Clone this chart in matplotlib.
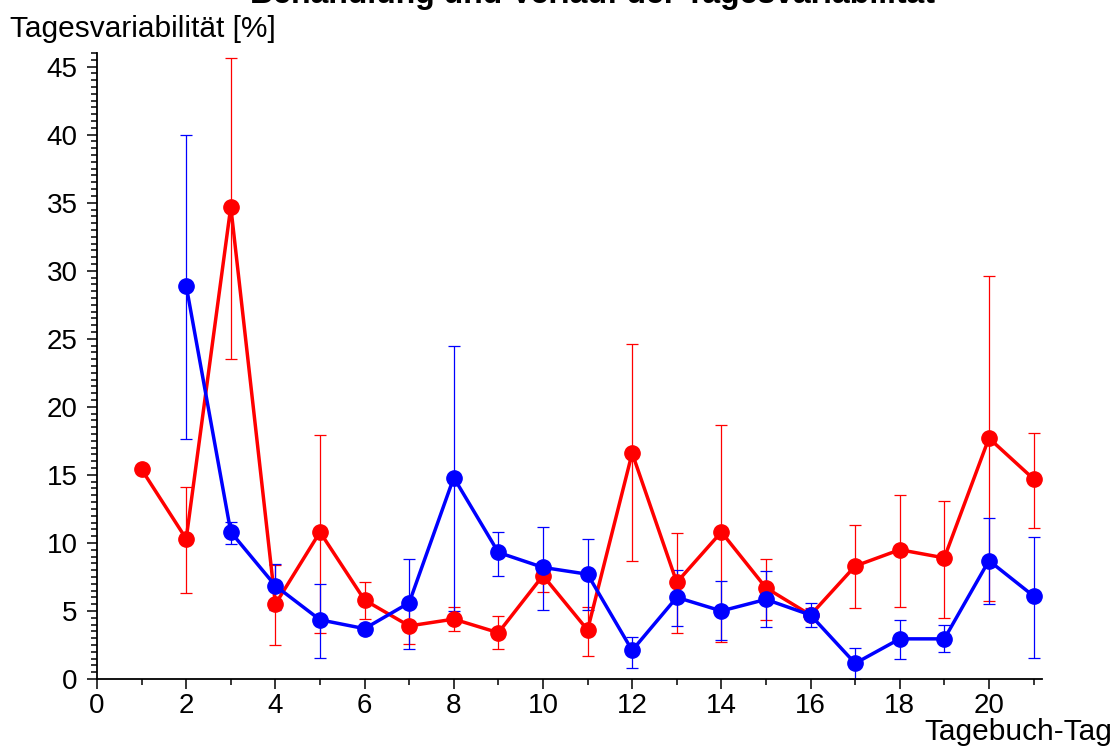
import numpy as np
import matplotlib
matplotlib.use("Agg")
import matplotlib.pyplot as plt
from matplotlib.ticker import MultipleLocator

plt.rcParams['font.family'] = ['Liberation Sans', 'DejaVu Sans']

# red series (days 1..21)
red_day = [1, 2, 3, 4, 5, 6, 7, 8, 9, 10, 11, 12, 13, 14, 15, 16, 17, 18, 19, 20, 21]
red_val = [15.4, 10.3, 34.7, 5.5, 10.8, 5.8, 3.9, 4.4, 3.4, 7.6, 3.6, 16.6, 7.1, 10.8,
           6.7, 4.7, 8.3, 9.5, 8.9, 17.7, 14.7]
red_lo = [15.4, 6.3, 23.5, 2.5, 3.4, 4.4, 2.6, 3.5, 2.2, 6.4, 1.7, 8.65, 3.4, 2.7,
          4.35, 4.5, 5.2, 5.3, 4.5, 5.7, 11.1]
red_hi = [15.4, 14.1, 45.6, 8.4, 17.9, 7.1, 5.3, 5.3, 4.6, 8.6, 5.3, 24.6, 10.7, 18.7,
          8.8, 5.2, 11.3, 13.5, 13.1, 29.6, 18.1]

# blue series (days 2..21)
blue_day = [2, 3, 4, 5, 6, 7, 8, 9, 10, 11, 12, 13, 14, 15, 16, 17, 18, 19, 20, 21]
blue_val = [28.9, 10.8, 6.85, 4.35, 3.7, 5.6, 14.8, 9.3, 8.2, 7.7, 2.1, 6.0, 5.0, 5.85,
            4.7, 1.15, 2.95, 2.95, 8.7, 6.1]
blue_lo = [17.65, 9.95, 5.1, 1.55, 3.3, 2.2, 5.0, 7.6, 5.1, 5.1, 0.8, 3.9, 2.9, 3.8,
           3.8, 0.0, 1.45, 1.95, 5.5, 1.55]
blue_hi = [40.0, 11.55, 8.45, 7.0, 3.95, 8.85, 24.5, 10.8, 11.2, 10.3, 3.1, 8.0, 7.2, 7.9,
           5.55, 2.3, 4.35, 4.0, 11.8, 10.45]

x_ticks = [0, 2, 4, 6, 8, 10, 12, 14, 16, 18, 20]
y_ticks = [0, 5, 10, 15, 20, 25, 30, 35, 40, 45]

fig = plt.figure(figsize=(11.2, 7.51), dpi=100)
ax = fig.add_axes([97 / 1120, 1 - 679 / 751, (1042 - 97) / 1120, (679 - 53) / 751])


def draw(day, val, lo, hi, color):
    val = np.array(val)
    yerr = np.vstack([val - np.array(lo), np.array(hi) - val])
    ax.errorbar(day, val, yerr=yerr, fmt='none', ecolor=color, elinewidth=0.9,
                capsize=4.5, capthick=0.9, zorder=2)
    ax.plot(day, val, color=color, lw=2.5, marker='o', ms=11, zorder=3)


draw(red_day, red_val, red_lo, red_hi, '#ff0000')
draw(blue_day, blue_val, blue_lo, blue_hi, '#0000ff')

ax.set_xlim(0, 21.19)
ax.set_ylim(0, 46)
ax.set_xticks(x_ticks)
ax.set_yticks(y_ticks)
ax.xaxis.set_minor_locator(MultipleLocator(1))
ax.yaxis.set_minor_locator(MultipleLocator(0.5))

for s in ['top', 'right']:
    ax.spines[s].set_visible(False)
for s in ['left', 'bottom']:
    ax.spines[s].set_linewidth(1.3)

ax.tick_params(axis='both', which='major', direction='out', length=7, width=1.1,
               labelsize=20)
ax.tick_params(axis='y', which='major', pad=7)
ax.tick_params(axis='x', which='major', pad=3)
ax.tick_params(axis='x', which='minor', direction='out', length=4.5, width=1.1)
ax.tick_params(axis='y', which='minor', direction='out', length=4, width=1.1)

fig.text(10 / 1120, 1 - 37 / 751, 'Tagesvariabilität [%]', fontsize=21.5,
         ha='left', va='baseline')
fig.text(1112 / 1120, 1 - 740 / 751, 'Tagebuch-Tag', fontsize=21.5,
         ha='right', va='baseline')
fig.text(593 / 1120, 1 - 3 / 751, 'Behandlung und Verlauf der Tagesvariabilität',
         fontsize=23, fontweight='bold', ha='center', va='baseline')

fig.savefig('out.png', dpi=100)
